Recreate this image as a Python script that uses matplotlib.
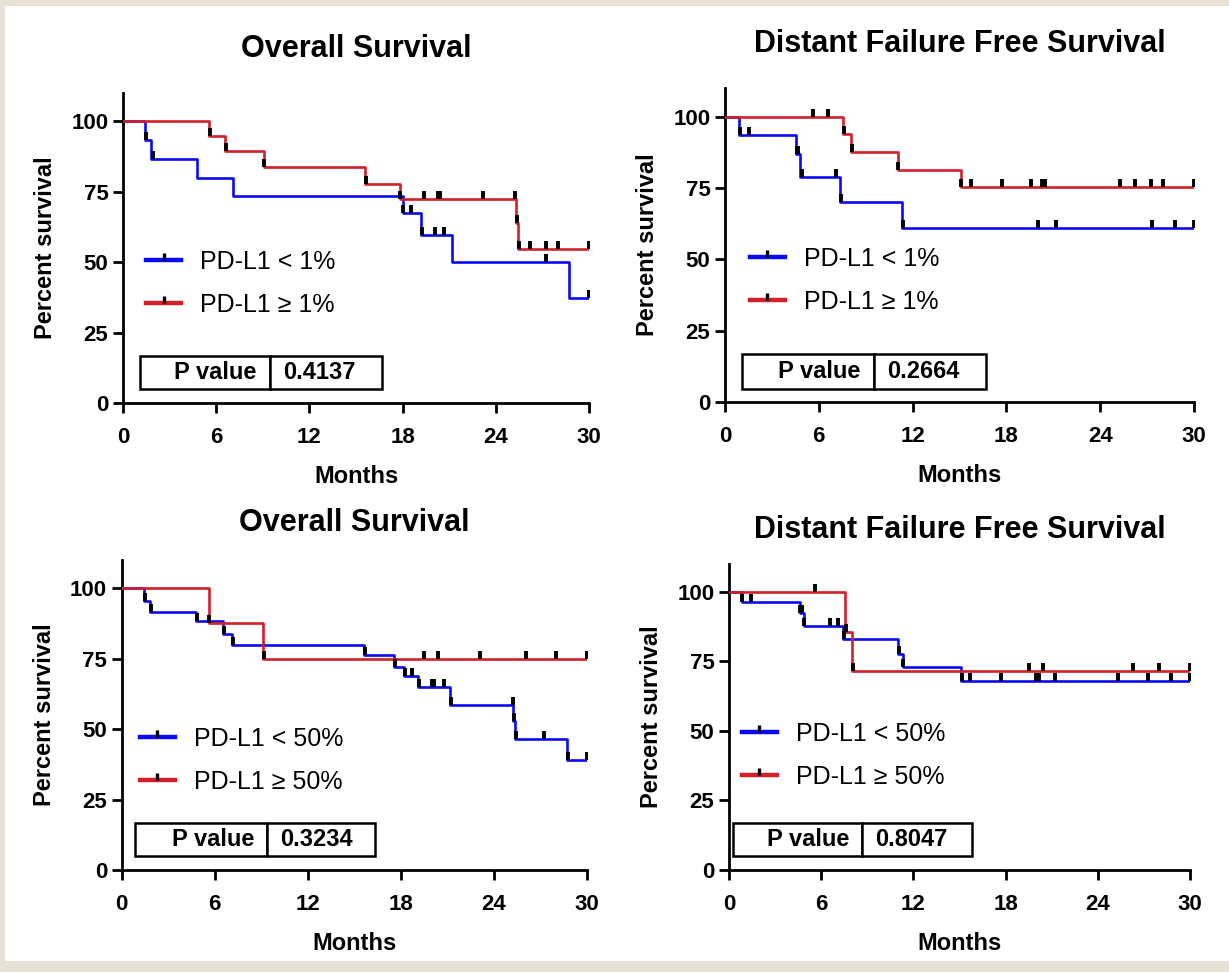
import matplotlib
matplotlib.use("Agg")
import matplotlib.pyplot as plt
import numpy as np
from matplotlib.lines import Line2D
from matplotlib.patches import Rectangle

plt.rcParams['font.family'] = ['Liberation Sans', 'DejaVu Sans']

BLUE = '#0a0af5'
RED = '#d0202a'
BEIGE = '#e8e2d6'

# ---- data (months, percent survival) ----
# top left: Overall Survival, PD-L1 1% cut
os1_low_t = [0, 1.44, 1.82, 4.76, 7.08, 18.0, 19.2, 21.2, 28.7]
os1_low_s = [100, 93.3, 86.7, 80.0, 73.3, 67.5, 59.5, 50.0, 37.3]
os1_low_c = [1.46, 1.9, 18.03, 18.56, 19.25, 20.06, 20.67, 27.25, 30]
os1_high_t = [0, 5.54, 6.55, 9.08, 15.6, 17.8, 25.3, 25.45]
os1_high_s = [100, 94.7, 89.4, 83.7, 77.8, 72.5, 64.0, 54.6]
os1_high_c = [5.6, 6.6, 9.1, 15.65, 17.85, 19.4, 20.25, 20.4, 23.2, 25.25, 25.35, 25.5,
              26.2, 27.2, 28.0, 30]

# top right: Distant Failure Free Survival, PD-L1 1% cut
df1_low_t = [0, 0.92, 4.55, 4.8, 7.36, 11.3]
df1_low_s = [100, 93.5, 86.9, 78.8, 69.9, 60.8]
df1_low_c = [0.95, 1.55, 4.6, 4.7, 4.9, 7.1, 7.4, 11.4, 20.0, 21.2, 27.3, 28.8, 30]
df1_high_t = [0, 7.57, 8.04, 11.04, 15.07]
df1_high_s = [100, 93.8, 87.6, 81.4, 75.2]
df1_high_c = [5.65, 6.6, 7.62, 8.1, 11.05, 15.1, 15.75, 17.75, 19.55, 20.3, 20.5,
              25.3, 26.2, 27.25, 28.0, 30]

# bottom left: Overall Survival, PD-L1 50% cut
os50_low_t = [0, 1.46, 1.83, 4.8, 6.55, 7.1, 15.6, 17.55, 18.2, 19.1, 21.2, 25.25, 25.35, 28.7]
os50_low_s = [100, 95.6, 91.7, 88.3, 83.8, 79.9, 76.2, 72.2, 68.9, 64.9, 58.4, 52.9, 46.6, 39.2]
os50_low_c = [1.5, 1.87, 4.85, 6.6, 7.15, 15.7, 17.6, 18.25, 18.7, 19.15, 20.0, 20.15,
              20.75, 21.25, 25.2, 25.3, 25.4, 27.2, 28.75, 30]
os50_high_t = [0, 5.6, 9.1]
os50_high_s = [100, 87.5, 75.0]
os50_high_c = [5.65, 9.15, 19.5, 20.4, 23.1, 26.1, 28.0, 30]

# bottom right: Distant Failure Free Survival, PD-L1 50% cut
df50_low_t = [0, 0.82, 4.6, 4.85, 7.4, 11.0, 11.3, 15.1]
df50_low_s = [100, 96.4, 92.5, 87.7, 82.9, 77.8, 73.1, 68.0]
df50_low_c = [0.85, 1.41, 4.65, 4.75, 4.9, 6.6, 7.07, 7.45, 11.05, 11.35, 15.15, 15.7,
              17.7, 20.0, 20.2, 21.2, 25.3, 27.25, 28.75, 30]
df50_high_t = [0, 7.55, 8.0]
df50_high_s = [100, 85.7, 71.4]
df50_high_c = [5.6, 7.6, 8.05, 19.5, 20.4, 26.3, 28.0, 30]

titles = ['Overall Survival', 'Distant Failure Free Survival',
          'Overall Survival', 'Distant Failure Free Survival']
legend_labels = [('PD-L1 < 1%', 'PD-L1 \u2265 1%'), ('PD-L1 < 1%', 'PD-L1 \u2265 1%'),
                 ('PD-L1 < 50%', 'PD-L1 \u2265 50%'), ('PD-L1 < 50%', 'PD-L1 \u2265 50%')]
p_values = ['0.4137', '0.2664', '0.3234', '0.8047']

curves = [
    ((os1_low_t, os1_low_s, os1_low_c), (os1_high_t, os1_high_s, os1_high_c)),
    ((df1_low_t, df1_low_s, df1_low_c), (df1_high_t, df1_high_s, df1_high_c)),
    ((os50_low_t, os50_low_s, os50_low_c), (os50_high_t, os50_high_s, os50_high_c)),
    ((df50_low_t, df50_low_s, df50_low_c), (df50_high_t, df50_high_s, df50_high_c)),
]

# layout (figure fractions), legend anchor and p-value box (axes fractions)
axes_rects = [[0.1001, 0.5854, 0.3792, 0.3189],
              [0.5899, 0.5864, 0.3816, 0.3231],
              [0.0990, 0.1049, 0.3786, 0.3190],
              [0.5932, 0.1049, 0.3751, 0.3149]]
title_pads = [26, 26, 21, 19]
legend_anchor = [(0.05, 0.494), (0.053, 0.494), (0.039, 0.461), (0.028, 0.484)]
table_boxes = [([0.036, 0.045, 0.519, 0.106], [130, 112]),
               ([0.036, 0.041, 0.520, 0.111], [132, 112]),
               ([0.029, 0.045, 0.516, 0.106], [132, 108]),
               ([0.009, 0.046, 0.518, 0.108], [129, 110])]


def km_plot(ax, t, s, c, color):
    end = max(c[-1], t[-1])
    ax.step(t + [end], s + [s[-1]], where='post', color=color, lw=1.9, zorder=3)
    idx = np.searchsorted(t, c, side='right') - 1
    ax.plot(c, np.array(s)[idx], linestyle='none', marker=2, ms=6, mew=2.8,
            color='black', zorder=4)


fig = plt.figure(figsize=(12.29, 9.72), dpi=100)
fig.patch.set_facecolor(BEIGE)
fig.patches.append(Rectangle((5 / 1229, 11 / 972), 1 - 5 / 1229, 1 - 17 / 972,
                             transform=fig.transFigure, facecolor='white',
                             edgecolor='none', zorder=-10))

for i in range(4):
    ax = fig.add_axes(axes_rects[i])
    ax.set_facecolor('none')
    (lt, ls, lc), (ht, hs, hc) = curves[i]
    km_plot(ax, lt, ls, lc, BLUE)
    km_plot(ax, ht, hs, hc, RED)

    ax.set_xlim(0, 30)
    ax.set_ylim(0, 110)
    ax.set_xticks([0, 6, 12, 18, 24, 30])
    ax.set_yticks([0, 25, 50, 75, 100])
    for sp in ['top', 'right']:
        ax.spines[sp].set_visible(False)
    for sp in ['left', 'bottom']:
        ax.spines[sp].set_linewidth(2.0)
    ax.tick_params(length=7.5, width=2.0, labelsize=16)
    ax.tick_params(axis='x', pad=10)
    ax.tick_params(axis='y', pad=3)
    for lab in ax.get_xticklabels() + ax.get_yticklabels():
        lab.set_fontweight('bold')
    ax.set_xlabel('Months', fontsize=17, fontweight='bold', labelpad=12)
    ax.set_ylabel('Percent survival', fontsize=17, fontweight='bold', labelpad=10)
    ax.set_title(titles[i], fontsize=22, fontweight='bold', pad=title_pads[i])

    handles = [Line2D([], [], color=BLUE, lw=3.2, marker=2, ms=5, mew=2.4, mec='black'),
               Line2D([], [], color=RED, lw=3.2, marker=2, ms=5, mew=2.4, mec='black')]
    ax.legend(handles, legend_labels[i], loc='upper left', bbox_to_anchor=legend_anchor[i],
              frameon=False, fontsize=18, handlelength=1.4, handletextpad=0.75,
              labelspacing=0.75, borderpad=0, borderaxespad=0, numpoints=1)

    box, widths = table_boxes[i]
    tb = ax.table(cellText=[['P value', p_values[i]]], colWidths=widths,
                  bbox=box, cellLoc='center')
    tb.auto_set_font_size(False)
    for (r, col), cell in tb.get_celld().items():
        cell.set_linewidth(1.8)
        cell.get_text().set_fontsize(17)
        cell.get_text().set_fontweight('bold')
    tb[0, 0].get_text().set_horizontalalignment('right')
    tb[0, 0].PAD = 0.1
    tb[0, 1].get_text().set_horizontalalignment('left')
    tb[0, 1].PAD = 0.12

fig.savefig('out.png', dpi=100, facecolor=fig.get_facecolor())
